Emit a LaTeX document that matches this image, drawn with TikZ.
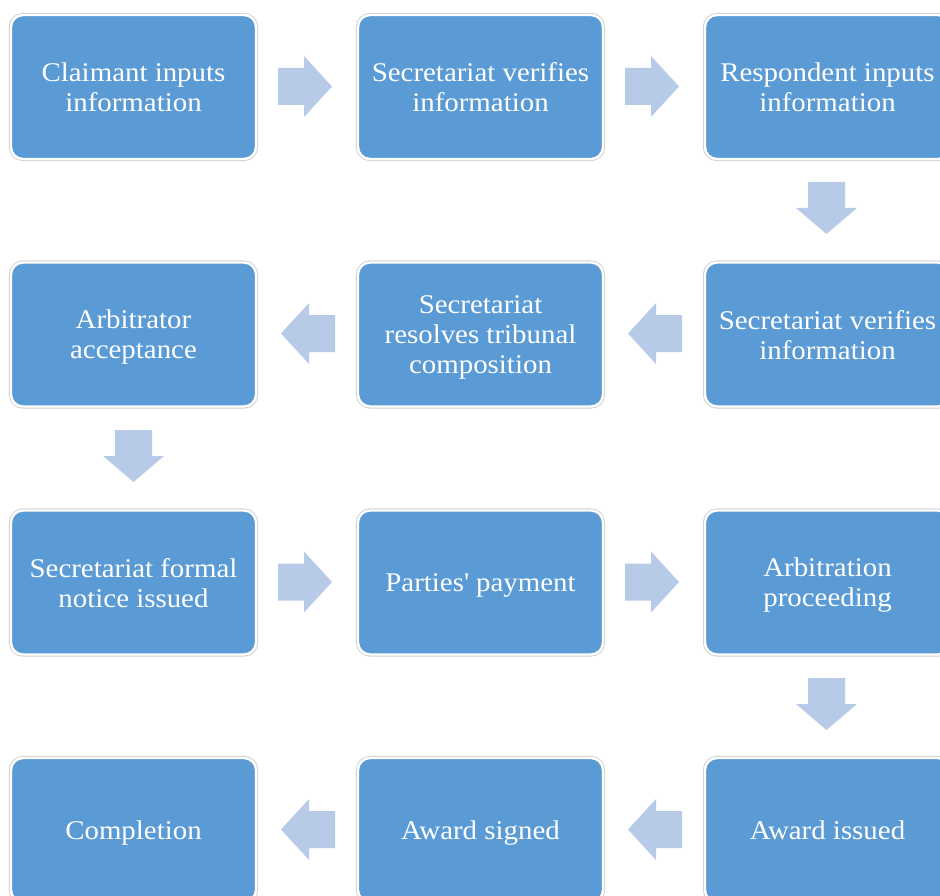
\documentclass[tikz,border=0pt]{standalone}
\usepackage{fontspec}
\setmainfont[FakeStretch=1.07]{Liberation Serif}
\definecolor{boxblue}{HTML}{5B9BD5}
\definecolor{arrblue}{HTML}{B7CBE8}
\definecolor{rimgray}{HTML}{D0D0D0}
\newcommand\arrR[2]{\fill[arrblue] (#1-27,#2-18.5) -- (#1-1,#2-18.5) -- (#1-1,#2-30.5) -- (#1+27,#2) -- (#1-1,#2+30.5) -- (#1-1,#2+18.5) -- (#1-27,#2+18.5) -- cycle;}
\newcommand\arrL[2]{\fill[arrblue] (#1+27,#2-18.5) -- (#1+1,#2-18.5) -- (#1+1,#2-30.5) -- (#1-27,#2) -- (#1+1,#2+30.5) -- (#1+1,#2+18.5) -- (#1+27,#2+18.5) -- cycle;}
\newcommand\arrD[2]{\fill[arrblue] (#1-18.5,#2-26) -- (#1-18.5,#2) -- (#1-30.5,#2) -- (#1,#2+26) -- (#1+30.5,#2) -- (#1+18.5,#2) -- (#1+18.5,#2-26) -- cycle;}
\newcommand\oneline[1]{\raisebox{-3pt}[21pt][9pt]{#1}}
\newcommand\lastline[1]{\raisebox{0pt}[\height][0pt]{#1}}
\begin{document}
\begin{tikzpicture}[x=1pt,y=-1pt,
  stepbox/.style={rectangle, rounded corners=12pt, fill=boxblue,
    preaction={draw=rimgray, line width=4.2pt},
    draw=white, line width=2.4pt,
    minimum width=245pt, minimum height=144pt, inner sep=0pt,
    text=white, align=center, font=\fontsize{27}{30}\selectfont}]
\useasboundingbox (0,0) rectangle (940,896);
\fill[white] (0,0) rectangle (940,896);
% row 1
\node[stepbox] (n1) at (133.5,87) {Claimant inputs\\\lastline{information}};
\node[stepbox] (n2) at (480.5,87) {Secretariat verifies\\\lastline{information}};
\node[stepbox] (n3) at (827.5,87) {Respondent inputs\\\lastline{information}};
% row 2
\node[stepbox] (n4) at (827.5,334.5) {Secretariat verifies\\\lastline{information}};
\node[stepbox] (n5) at (480.5,334.5) {Secretariat\\resolves tribunal\\\lastline{composition}};
\node[stepbox] (n6) at (133.5,334.5) {Arbitrator\\\lastline{acceptance}};
% row 3
\node[stepbox] (n7) at (133.5,582.5) {Secretariat formal\\\lastline{notice issued}};
\node[stepbox] (n8) at (480.5,582.5) {\oneline{Parties\textquotesingle{} payment}};
\node[stepbox] (n9) at (827.5,582.5) {Arbitration\\\lastline{proceeding}};
% row 4
\node[stepbox] (n10) at (827.5,830) {\oneline{Award issued}};
\node[stepbox] (n11) at (480.5,830) {\oneline{Award signed}};
\node[stepbox] (n12) at (133.5,830) {\oneline{Completion}};
% arrows
\arrR{305}{86.5}
\arrR{652}{86.5}
\arrD{826.5}{208}
\arrL{655}{333.5}
\arrL{308}{333.5}
\arrD{133.5}{456}
\arrR{305}{582}
\arrR{652}{582}
\arrD{826.5}{704}
\arrL{655}{829.5}
\arrL{308}{829.5}
\end{tikzpicture}
\end{document}
